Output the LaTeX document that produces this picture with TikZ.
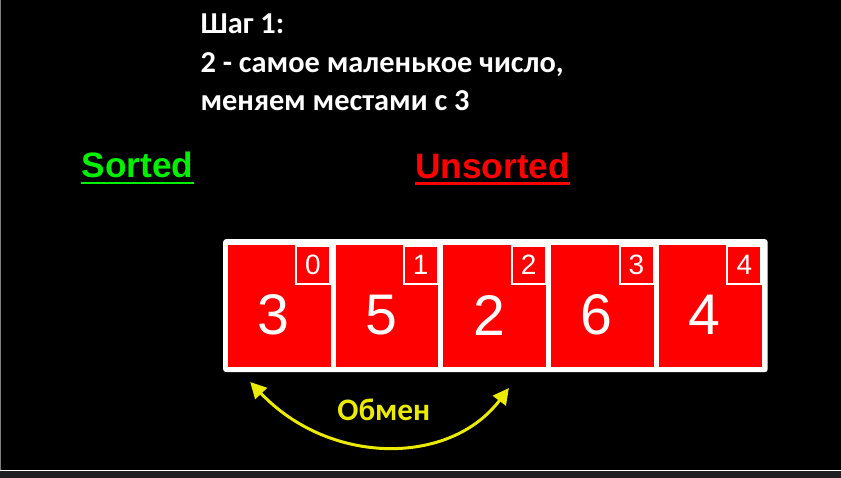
\documentclass[tikz,border=0pt]{standalone}
\usepackage{fontspec}
\setmainfont{Liberation Sans}
\newfontfamily\slidefont{Carlito}
\usetikzlibrary{arrows.meta}
\definecolor{swapyellow}{RGB}{235,235,0}
\definecolor{sortgreen}{RGB}{0,240,0}
\definecolor{barcol}{RGB}{30,31,34}

\begin{document}
\begin{tikzpicture}[x=0.75pt,y=-0.75pt,
    cellbox/.style={fill=red, minimum width=77.25pt, minimum height=91.5pt, inner sep=0},
    idxbox/.style={draw=white, line width=1.5pt, minimum width=25.5pt, minimum height=28.5pt,
        anchor=north east, inner sep=0, text=white, font=\fontsize{21}{21}\selectfont},
    valtext/.style={text=white, inner sep=0, font=\fontsize{43}{43}\selectfont},
    titletext/.style={anchor=base west, inner sep=0, text=white,
        font=\slidefont\bfseries\fontsize{22.8}{22.8}\selectfont},
    headtext/.style={anchor=base west, inner sep=0, font=\bfseries\fontsize{26.5}{26.5}\selectfont}]
        % background of the screenshot
        \fill[black] (0,0) rectangle (841,478);
        \fill[barcol] (0,471) rectangle (841,478);
        \draw[white, line width=0.75pt] (0,470.5) -- (841,470.5);
        \draw[gray, line width=0.75pt] (0.5,0) -- (0.5,470);
        \useasboundingbox (0,0) rectangle (841,478);
        % step text
        \node[titletext] (line1) at (200,33) {Шаг 1:};
        \node[titletext] (line2) at (200,72) {2 - самое маленькое число,};
        \node[titletext] (line3) at (200,110) {меняем местами с 3};
        % headings
        \node[headtext, text=sortgreen] (sorted) at (81,177) {Sorted};
        \node[headtext, text=red] (unsorted) at (415,178) {Unsorted};
        \draw[sortgreen, line width=1.8pt] ([yshift=-4.5pt]sorted.base west) -- ([yshift=-4.5pt]sorted.base east);
        \draw[red, line width=1.8pt] ([yshift=-4pt]unsorted.base west) -- ([yshift=-4pt]unsorted.base east);
        % array
        \fill[white, rounded corners=2pt] (223,239) rectangle (768,372);
        \foreach \val/\idx in {3/0,5/1,2/2,6/3,4/4} {
            \node[cellbox] (c\idx) at ({279+108*\idx},306) {};
            \node[idxbox] (i\idx) at (c\idx.north east) {\idx};
            \node[valtext] (v\idx) at ([xshift=-4.5pt,yshift=-6.75pt]c\idx.center) {\val};
        }
        % swap arrow
        \coordinate (swapL) at (250,382);
        \coordinate (swapR) at (509,388);
        \draw[swapyellow, line width=2.25pt, {Triangle[length=12pt,width=12pt]}-{Triangle[length=12pt,width=12pt]}]
            (swapL) .. controls (330,466) and (450,466) .. (swapR);
        \node[anchor=base west, inner sep=0, text=swapyellow,
            font=\slidefont\bfseries\fontsize{23.5}{23.5}\selectfont] (swap) at (337,421) {Обмен};
    \end{tikzpicture}
\end{document}
